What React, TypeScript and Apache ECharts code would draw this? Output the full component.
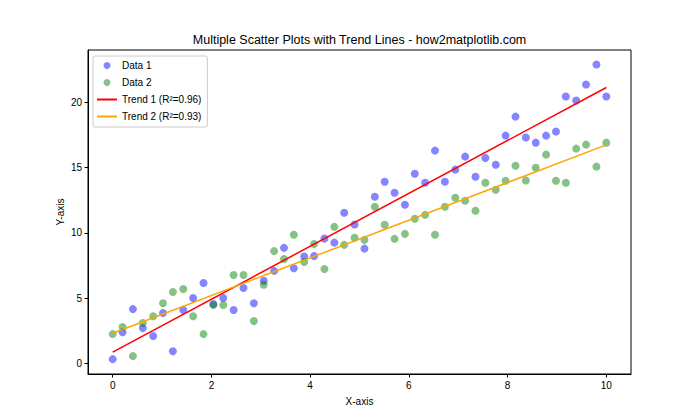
import React, { useEffect, useRef } from 'react';
import * as echarts from 'echarts';

const xValues = [0, 0.2, 0.41, 0.61, 0.82, 1.02, 1.22, 1.43, 1.63, 1.84, 2.04, 2.24, 2.45, 2.65, 2.86, 3.06, 3.27, 3.47, 3.67, 3.88, 4.08, 4.29, 4.49, 4.69, 4.9, 5.1, 5.31, 5.51, 5.71, 5.92, 6.12, 6.33, 6.53, 6.73, 6.94, 7.14, 7.35, 7.55, 7.76, 7.96, 8.16, 8.37, 8.57, 8.78, 8.98, 9.18, 9.39, 9.59, 9.8, 10.0];

const data1 = [0.31, 2.38, 4.15, 2.69, 2.08, 3.85, 0.92, 4.08, 5.0, 6.15, 4.54, 5.0, 4.08, 5.77, 4.6, 6.33, 7.08, 8.85, 7.28, 8.18, 8.23, 9.56, 9.25, 11.54, 10.64, 8.79, 12.77, 13.92, 13.08, 12.15, 14.54, 13.85, 16.31, 13.92, 14.85, 15.85, 14.31, 15.74, 15.23, 17.46, 18.92, 17.31, 16.92, 17.46, 17.77, 20.46, 20.15, 21.38, 22.92, 20.46];

const data2 = [2.23, 2.77, 0.54, 3.08, 3.6, 4.6, 5.46, 5.69, 3.6, 2.23, 4.46, 4.46, 6.77, 6.77, 3.23, 6.02, 8.6, 8.0, 9.85, 7.77, 9.15, 7.23, 10.46, 9.08, 9.62, 9.46, 12.0, 10.62, 9.54, 9.92, 11.08, 11.38, 9.85, 12.0, 12.69, 12.46, 11.69, 13.85, 13.31, 14.0, 15.15, 14.02, 15.0, 16.0, 14.0, 13.85, 16.46, 16.77, 15.08, 16.92];

const trendX = [0, 10];
const trend1Y = [0.85, 21.15];
const trend2Y = [2.3, 16.75];

const seriesNames = ['Data 1', 'Data 2', 'Trend 1 (R²=0.96)', 'Trend 2 (R²=0.93)'];
const xTicks = [0, 2, 4, 6, 8, 10];
const yTicks = [0, 5, 10, 15, 20];

const titleText = 'Multiple Scatter Plots with Trend Lines - how2matplotlib.com';
const FONT = 'Liberation Sans, Arial, sans-serif';

export default function App() {
  const ref = useRef<HTMLDivElement>(null);
  useEffect(() => {
    if (!ref.current) return;
    const chart = echarts.init(ref.current, undefined, { renderer: 'svg' });
    const pts = (ys: number[]) => xValues.map((x, i) => [x, ys[i]]);
    const line = (ys: number[]) => trendX.map((x, i) => [x, ys[i]]);
    chart.setOption({
      animation: false,
      backgroundColor: '#ffffff',
      textStyle: { fontFamily: FONT },
      grid: { left: 88, right: 69, top: 50, bottom: 46, show: true, borderColor: '#000', borderWidth: 1, backgroundColor: 'transparent' },
      graphic: [
        { type: 'text', x: 359.5, y: 40, style: { text: titleText, fill: '#000', font: `12.5px ${FONT}`, textAlign: 'center', textVerticalAlign: 'middle' } },
        { type: 'text', x: 359.5, y: 401, style: { text: 'X-axis', fill: '#000', font: `10px ${FONT}`, textAlign: 'center', textVerticalAlign: 'middle' } },
        { type: 'text', x: 60, y: 212, rotation: Math.PI / 2, style: { text: 'Y-axis', fill: '#000', font: `10px ${FONT}`, textAlign: 'center', textVerticalAlign: 'middle' } },
      ],
      legend: {
        orient: 'vertical',
        left: 93,
        top: 56,
        padding: [4, 6, 5, 3],
        itemWidth: 20,
        itemHeight: 7,
        itemGap: 6,
        backgroundColor: 'rgba(255,255,255,0.8)',
        borderColor: '#cccccc',
        borderWidth: 1,
        borderRadius: 2,
        textStyle: { fontSize: 10, color: '#000', fontFamily: FONT, lineHeight: 11 },
        data: [
          { name: seriesNames[0], icon: 'circle' },
          { name: seriesNames[1], icon: 'circle' },
          { name: seriesNames[2], itemStyle: { opacity: 0 } },
          { name: seriesNames[3], itemStyle: { opacity: 0 } },
        ],
      },
      xAxis: {
        type: 'value',
        min: -0.5,
        max: 10.5,
        splitLine: { show: false },
        axisLine: { show: true, onZero: false, lineStyle: { color: '#000' } },
        axisTick: { show: true, length: 3.5, lineStyle: { color: '#000' }, customValues: xTicks },
        axisLabel: { color: '#000', fontSize: 10, margin: 6, customValues: xTicks, fontFamily: FONT },
      },
      yAxis: {
        type: 'value',
        min: -0.83,
        max: 24.03,
        splitLine: { show: false },
        axisLine: { show: true, onZero: false, lineStyle: { color: '#000' } },
        axisTick: { show: true, length: 3.5, lineStyle: { color: '#000' }, customValues: yTicks },
        axisLabel: { color: '#000', fontSize: 10, margin: 6, customValues: yTicks, fontFamily: FONT },
      },
      series: [
        { name: seriesNames[0], type: 'scatter', data: pts(data1), symbolSize: 8, itemStyle: { color: 'rgba(0,0,255,0.6)' } },
        { name: seriesNames[1], type: 'scatter', data: pts(data2), symbolSize: 8, itemStyle: { color: 'rgba(0,128,0,0.6)' } },
        { name: seriesNames[2], type: 'line', data: line(trend1Y), symbol: 'none', lineStyle: { color: '#ff0000', width: 1.5 }, itemStyle: { color: '#ff0000' } },
        { name: seriesNames[3], type: 'line', data: line(trend2Y), symbol: 'none', lineStyle: { color: '#ffa500', width: 1.5 }, itemStyle: { color: '#ffa500' } },
      ],
    });
    return () => chart.dispose();
  }, []);
  return <div ref={ref} style={{ position: 'fixed', left: 0, top: 0, width: 700, height: 420 }} />;
}
